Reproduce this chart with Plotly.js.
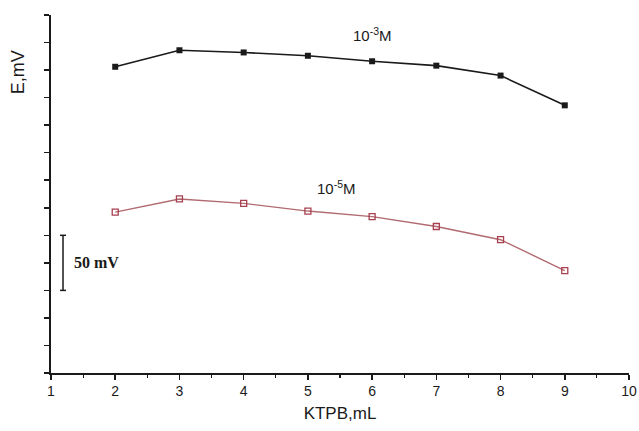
<!DOCTYPE html>
<html>
<head>
<meta charset="utf-8">
<script src="https://cdn.plot.ly/plotly-3.0.1.min.js"></script>
<style>html,body{margin:0;padding:0;background:#fff;}#chart{width:639px;height:431px;}</style>
</head>
<body>
<div id="chart"></div>
<script>
// KTPB volume (mL)
const ktpb = [2, 3, 4, 5, 6, 7, 8, 9];
// Potential E (mV, arbitrary offset) for 10^-3 M
const e_1e3 = [278, 293, 291, 288, 283, 279, 270, 243];
// Potential E (mV, arbitrary offset) for 10^-5 M
const e_1e5 = [146, 158, 154, 147, 142, 133, 121, 93];
const xTicks = [1, 2, 3, 4, 5, 6, 7, 8, 9, 10];

const traces = [
  {
    x: ktpb, y: e_1e3, type: 'scatter', mode: 'lines+markers',
    line: {color: '#1a1a1a', width: 1.6},
    marker: {symbol: 'square', size: 6, color: '#1a1a1a'},
    name: '10-3 M', showlegend: false, cliponaxis: false
  },
  {
    x: ktpb, y: e_1e5, type: 'scatter', mode: 'lines+markers',
    line: {color: '#b06a70', width: 1.4},
    marker: {symbol: 'square-open', size: 6, color: '#a84050', line: {width: 1.3}},
    name: '10-5 M', showlegend: false, cliponaxis: false
  }
];

const layout = {
  width: 639, height: 431,
  margin: {l: 51, r: 10, t: 15, b: 58},
  paper_bgcolor: '#fff', plot_bgcolor: '#fff',
  font: {family: 'Liberation Sans, Arial, sans-serif', color: '#1a1a1a'},
  xaxis: {
    range: [1, 10], tickvals: xTicks, ticktext: xTicks.map(String),
    showgrid: false, zeroline: false, showline: true, linecolor: '#1a1a1a', linewidth: 1.6,
    ticks: 'outside', ticklen: 5, tickwidth: 1.5, tickcolor: '#1a1a1a',
    minor: {dtick: 0.5, tick0: 1, ticks: 'outside', ticklen: 3, tickwidth: 1.2, tickcolor: '#1a1a1a'},
    tickfont: {size: 14, family: 'Liberation Sans, Arial, sans-serif', color: '#1a1a1a'},
    title: {text: 'KTPB,mL', font: {size: 17, color: '#1a1a1a'}, standoff: 8}
  },
  yaxis: {
    range: [0, 325], tick0: 0, dtick: 25, showticklabels: false,
    showgrid: false, zeroline: false, showline: true, linecolor: '#1a1a1a', linewidth: 1.6,
    ticks: 'outside', ticklen: 5, tickwidth: 1.5, tickcolor: '#1a1a1a'
  },
  shapes: [
    {type: 'line', xref: 'x', yref: 'y', x0: 1.187, x1: 1.187, y0: 75, y1: 125, line: {color: '#1a1a1a', width: 1.5}},
    {type: 'line', xref: 'x', yref: 'y', x0: 1.14, x1: 1.234, y0: 125, y1: 125, line: {color: '#1a1a1a', width: 1.5}},
    {type: 'line', xref: 'x', yref: 'y', x0: 1.14, x1: 1.234, y0: 75, y1: 75, line: {color: '#1a1a1a', width: 1.5}}
  ],
  annotations: [
    {x: -0.057, y: 273, xref: 'paper', yref: 'y', xanchor: 'center', yanchor: 'middle',
     text: 'E,mV', textangle: -90, showarrow: false,
     font: {size: 18, color: '#1a1a1a'}},
    {x: 6, y: 307, xref: 'x', yref: 'y', text: '10<sup>-3</sup>M', showarrow: false,
     font: {size: 15, color: '#1a1a1a'}},
    {x: 5.45, y: 168, xref: 'x', yref: 'y', text: '10<sup>-5</sup>M', showarrow: false,
     font: {size: 15, color: '#1a1a1a'}},
    {x: 1.32, y: 100, xref: 'x', yref: 'y', xanchor: 'left', text: '<b>50 mV</b>', showarrow: false,
     font: {size: 16, color: '#1a1a1a', family: 'Liberation Serif, Times New Roman, serif'}}
  ]
};

Plotly.newPlot('chart', traces, layout, {displayModeBar: false, staticPlot: true});
</script>
</body>
</html>
